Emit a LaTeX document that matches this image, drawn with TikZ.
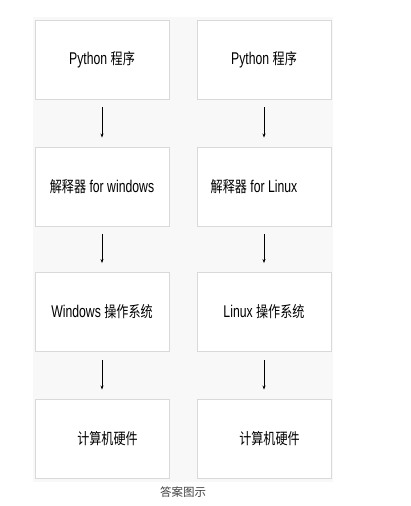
\documentclass[tikz,border=0pt]{standalone}
\usepackage{fontspec}
\setmainfont{Liberation Sans}[FakeStretch=0.72]
\newfontfamily\cjk{Noto Sans CJK SC}[FakeStretch=0.78]
\newfontfamily\cjkcap{Noto Sans CJK SC}
\usetikzlibrary{arrows.meta}
\definecolor{boxline}{HTML}{D9D9D9}
\definecolor{bgpanel}{HTML}{F8F8F8}
\definecolor{txt}{HTML}{000000}
\newcommand{\zh}[1]{{\cjk\fontsize{15.5pt}{17pt}\selectfont #1}}
\begin{document}
\begin{tikzpicture}[x=1pt,y=1pt,
  stage/.style={draw=boxline, line width=0.9pt, fill=white, minimum width=134pt, minimum height=79pt, inner sep=0pt, text=txt, font=\fontsize{17pt}{19pt}\selectfont},
  flow/.style={draw=black, line width=0.6pt, -{Stealth[length=4pt,width=3pt]}, shorten <=8pt, shorten >=9pt}]
\useasboundingbox (0,0) rectangle (410,506);
\fill[bgpanel] (33,24) rectangle (333,489);
% left column
\node[stage] (lp) at (102,446.5) {Python \zh{程序}};
\node[stage] (li) at (102,319.5) {\zh{解释器} for windows};
\node[stage] (lo) at (102,194) {Windows \zh{操作系统}};
\node[stage] (lh) at (102,67.5) {\hspace*{11pt}\zh{计算机硬件}};
% right column
\node[stage] (rp) at (264,446.5) {Python \zh{程序}};
\node[stage] (ri) at (264,319.5) {\zh{解释器} for Linux\hspace*{20pt}};
\node[stage] (ro) at (264,194) {Linux \zh{操作系统}};
\node[stage] (rh) at (264,67.5) {\hspace*{11pt}\zh{计算机硬件}};
% caption
\node[text=black!75, font=\cjkcap\fontsize{11.5pt}{13pt}\selectfont] (cap) at (183,14) {答案图示};
% arrows
\draw[flow] (lp) -- (li);
\draw[flow] (li) -- (lo);
\draw[flow] (lo) -- (lh);
\draw[flow] (rp) -- (ri);
\draw[flow] (ri) -- (ro);
\draw[flow] (ro) -- (rh);
\end{tikzpicture}
\end{document}
